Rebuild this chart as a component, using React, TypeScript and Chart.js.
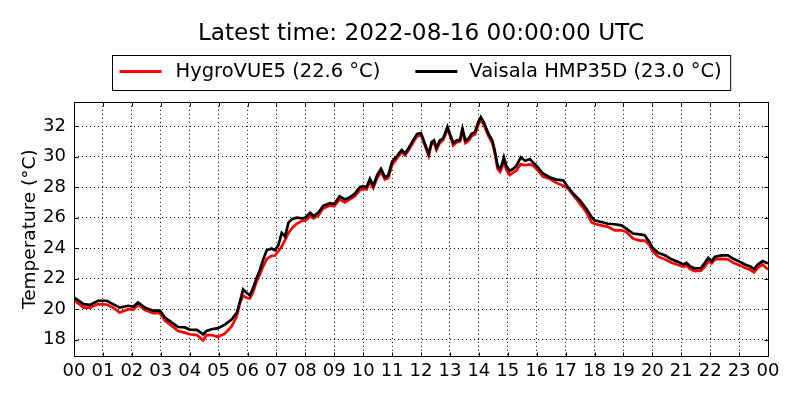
import { useEffect, useRef } from "react";
import { Chart, registerables } from "chart.js";

Chart.register(...registerables);

const titleText = "Latest time: 2022-08-16 00:00:00 UTC";
const yAxisLabel = "Temperature (°C)";
const seriesNames = ["HygroVUE5 (22.6 °C)", "Vaisala HMP35D (23.0 °C)"];
const seriesColors = ["#ff0000", "#000000"];
const yTicks = [18, 20, 22, 24, 26, 28, 30, 32];
const yLimits = [16.9, 33.6];
const hourTicks = [0, 1, 2, 3, 4, 5, 6, 7, 8, 9, 10, 11, 12, 13, 14, 15, 16, 17, 18, 19, 20, 21, 22, 23, 24];

const times = [
    "00:00", "00:20", "00:33", "00:50", "01:08", "01:21", "01:35", "01:53", "02:03", "02:13", "02:27", "02:44", "02:58", "03:09", "03:23", "03:36", "03:50", "04:00",
    "04:15", "04:28", "04:35", "04:45", "04:59", "05:13", "05:27", "05:38", "05:45", "05:51", "05:58", "06:05", "06:12", "06:19", "06:26", "06:33", "06:40", "06:50", "06:57", "07:04", "07:11", "07:18", "07:25", "07:32", "07:42", "07:53",
    "08:00", "08:10", "08:17", "08:27", "08:37", "08:51", "09:00", "09:11", "09:22", "09:32", "09:42", "09:53", "10:00", "10:07", "10:14", "10:21", "10:29", "10:37", "10:45", "10:52", "11:00", "11:09", "11:20", "11:27", "11:34", "11:44", "11:52", "12:00",
    "12:08", "12:16", "12:22", "12:27", "12:32", "12:39", "12:46", "12:55", "13:00", "13:07", "13:14", "13:21", "13:26", "13:32", "13:39", "13:45", "13:52", "13:59", "14:04", "14:11", "14:20", "14:28", "14:33", "14:39", "14:44", "14:48", "14:52", "14:57", "15:04", "15:11", "15:18", "15:27", "15:36", "15:46", "15:53",
    "16:00", "16:13", "16:27", "16:40", "16:55", "17:05", "17:16", "17:30", "17:43", "17:54", "18:00", "18:14", "18:28", "18:42", "18:56", "19:06", "19:20", "19:34", "19:44", "19:54",
    "20:00", "20:12", "20:26", "20:40", "20:54", "21:04", "21:11", "21:18", "21:28", "21:41", "21:49", "21:56", "22:03", "22:10", "22:24", "22:37", "22:48", "23:02", "23:12", "23:22", "23:31", "23:39", "23:49", "24:00",
];

const hygroVue = [
    20.6, 20.1, 20.1, 20.33, 20.3, 20.1, 19.78, 20.0, 19.95, 20.3, 19.95, 19.73, 19.73, 19.23, 18.9, 18.57, 18.46, 18.35,
    18.3, 17.95, 18.3, 18.3, 18.18, 18.4, 18.86, 19.55, 20.45, 20.9, 20.75, 20.7, 21.14, 21.82, 22.3, 22.84, 23.3, 23.5, 23.52, 23.8, 24.1, 24.54, 25.0, 25.3, 25.6, 25.8,
    25.8, 26.1, 25.95, 26.15, 26.6, 26.8, 26.75, 27.2, 27.0, 27.2, 27.4, 27.8, 27.9, 27.85, 28.35, 27.95, 28.6, 29.0, 28.5, 28.6, 29.45, 29.85, 30.3, 30.1, 30.4, 30.95, 31.35, 31.4,
    30.75, 30.05, 30.85, 30.95, 30.45, 30.9, 31.1, 31.8, 31.4, 30.75, 30.95, 31.0, 31.7, 30.9, 31.05, 31.35, 31.45, 32.1, 32.45, 32.05, 31.35, 30.9, 30.25, 29.2, 29.0, 29.3, 29.7, 29.15, 28.8, 28.95, 29.1, 29.5, 29.45, 29.5, 29.4,
    29.2, 28.7, 28.55, 28.3, 28.1, 27.9, 27.48, 26.9, 26.37, 25.7, 25.6, 25.5, 25.4, 25.17, 25.17, 25.06, 24.63, 24.5, 24.5, 24.2,
    23.82, 23.44, 23.27, 23.04, 22.9, 22.78, 22.87, 22.64, 22.5, 22.53, 22.78, 23.15, 23.0, 23.27, 23.3, 23.27, 23.04, 22.87, 22.71, 22.6, 22.42, 22.71, 22.93, 22.6,
];

const vaisala = [
    20.77, 20.33, 20.28, 20.55, 20.55, 20.33, 20.1, 20.22, 20.15, 20.44, 20.1, 19.9, 19.9, 19.45, 19.12, 18.83, 18.8, 18.66,
    18.64, 18.34, 18.57, 18.68, 18.75, 18.98, 19.32, 19.77, 20.57, 21.3, 21.07, 20.9, 21.43, 22.05, 22.6, 23.3, 23.86, 23.98, 23.86, 24.2, 25.0, 24.77, 25.68, 25.9, 26.0, 25.95,
    26.0, 26.33, 26.1, 26.33, 26.78, 26.96, 26.9, 27.4, 27.2, 27.33, 27.55, 28.0, 28.07, 28.0, 28.55, 28.1, 28.8, 29.2, 28.66, 28.77, 29.67, 30.0, 30.44, 30.22, 30.55, 31.1, 31.5, 31.55,
    30.85, 30.2, 30.96, 31.07, 30.6, 31.07, 31.2, 31.96, 31.5, 30.9, 31.07, 31.1, 31.85, 31.07, 31.2, 31.5, 31.6, 32.3, 32.6, 32.2, 31.5, 31.07, 30.4, 29.4, 29.2, 29.5, 29.96, 29.4, 29.07, 29.2, 29.4, 29.96, 29.73, 29.85, 29.6,
    29.4, 28.9, 28.65, 28.5, 28.45, 28.0, 27.57, 27.13, 26.59, 26.04, 25.83, 25.72, 25.6, 25.57, 25.5, 25.28, 24.96, 24.9, 24.85, 24.4,
    24.04, 23.7, 23.53, 23.27, 23.1, 22.93, 23.04, 22.82, 22.67, 22.7, 23.04, 23.37, 23.15, 23.44, 23.53, 23.53, 23.3, 23.1, 22.93, 22.82, 22.64, 22.93, 23.15, 23.0,
];

const FONT = "'DejaVu Sans'";

const toHours = (t: string) => {
    const [h, m] = t.split(":").map(Number);
    return h + m / 60;
};

const points = (values: number[]) => values.map((v, i) => ({ x: toHours(times[i]), y: v }));

// frame, inward ticks and the boxed legend, drawn like matplotlib does
const framePlugin = {
    id: "frameLegend",
    afterDatasetsDraw(chart: any) {
        const { ctx, chartArea: a, scales } = chart;
        ctx.save();
        ctx.strokeStyle = "#000";
        ctx.lineWidth = 1;
        const l = Math.round(a.left) + 0.5;
        const t = Math.round(a.top) + 0.5;
        const r = Math.round(a.right) + 0.5;
        const b = Math.round(a.bottom) + 0.5;
        ctx.strokeRect(l, t, r - l, b - t);

        ctx.beginPath();
        scales.x.ticks.forEach((tk: any) => {
            const px = Math.round(scales.x.getPixelForValue(tk.value)) + 0.5;
            ctx.moveTo(px, b); ctx.lineTo(px, b - 4);
            ctx.moveTo(px, t); ctx.lineTo(px, t + 4);
        });
        scales.y.ticks.forEach((tk: any) => {
            const py = Math.round(scales.y.getPixelForValue(tk.value)) + 0.5;
            ctx.moveTo(l, py); ctx.lineTo(l + 4, py);
            ctx.moveTo(r, py); ctx.lineTo(r - 4, py);
        });
        ctx.stroke();

        // legend
        ctx.font = `19.5px ${FONT}`;
        const w1 = ctx.measureText(seriesNames[0]).width;
        const w2 = ctx.measureText(seriesNames[1]).width;
        const sample = 42;
        const total = 7 + sample + 14 + w1 + 35 + sample + 12 + w2 + 9;
        const cx = (a.left + a.right) / 2;
        const bx = Math.round(cx - total / 2) + 0.5;
        const by = 55.5;
        const bh = 35;
        ctx.fillStyle = "#fff";
        ctx.fillRect(bx, by, total, bh);
        ctx.strokeStyle = "#000";
        ctx.lineWidth = 1;
        ctx.strokeRect(bx, by, total, bh);
        const my = 71.5;
        let x = bx + 7;
        [0, 1].forEach((i) => {
            ctx.strokeStyle = seriesColors[i];
            ctx.lineWidth = 3;
            ctx.beginPath();
            ctx.moveTo(x, my);
            ctx.lineTo(x + sample, my);
            ctx.stroke();
            x += sample + (i === 0 ? 14 : 12);
            ctx.fillStyle = "#000";
            ctx.textBaseline = "middle";
            ctx.textAlign = "left";
            ctx.fillText(seriesNames[i], x, my);
            x += (i === 0 ? w1 : w2) + 35;
        });
        ctx.restore();
    },
};

const TemperatureChart = () => {
    const chartRef = useRef<HTMLCanvasElement | null>(null);

    useEffect(() => {
        if (!chartRef.current) return;
        const ctx = chartRef.current.getContext("2d");
        if (!ctx) return;

        Chart.defaults.font.family = FONT;
        Chart.defaults.color = "#000";

        const myChart = new Chart(ctx, {
            type: "line",
            data: {
                datasets: [
                    {
                        label: seriesNames[0],
                        data: points(hygroVue),
                        borderColor: seriesColors[0],
                        borderWidth: 2.7,
                        pointRadius: 0,
                        tension: 0,
                        order: 2,
                    },
                    {
                        label: seriesNames[1],
                        data: points(vaisala),
                        borderColor: seriesColors[1],
                        borderWidth: 2.7,
                        pointRadius: 0,
                        tension: 0,
                        order: 1,
                    },
                ],
            },
            options: {
                animation: false,
                responsive: true,
                maintainAspectRatio: false,
                layout: { padding: { left: 19, right: 32, bottom: 14, top: 0 } },
                plugins: {
                    legend: { display: false },
                    tooltip: { enabled: false },
                    title: {
                        display: true,
                        text: titleText,
                        fullSize: false,
                        color: "#000",
                        font: { size: 23.2, weight: "normal" },
                        padding: { top: 20, bottom: 54 },
                    },
                },
                scales: {
                    x: {
                        type: "linear",
                        min: 0,
                        max: 24,
                        afterBuildTicks: (scale: any) => {
                            scale.ticks = hourTicks.map((v) => ({ value: v }));
                        },
                        ticks: {
                            autoSkip: false,
                            maxRotation: 0,
                            padding: 4,
                            color: "#000",
                            font: { size: 18 },
                            callback: (v: any) => String(Number(v) % 24).padStart(2, "0"),
                        },
                        grid: { color: "#000", lineWidth: 1, drawTicks: false },
                        border: { display: false, dash: [1, 3] },
                    },
                    y: {
                        type: "linear",
                        min: yLimits[0],
                        max: yLimits[1],
                        afterBuildTicks: (scale: any) => {
                            scale.ticks = yTicks.map((v) => ({ value: v }));
                        },
                        afterFit: (scale: any) => {
                            scale.width = 55;
                        },
                        ticks: {
                            padding: 8,
                            color: "#000",
                            font: { size: 18 },
                        },
                        grid: { color: "#000", lineWidth: 1, drawTicks: false },
                        border: { display: false, dash: [1, 3] },
                        title: {
                            display: true,
                            text: yAxisLabel,
                            color: "#000",
                            font: { size: 18.5 },
                            padding: { top: 0, bottom: 0 },
                        },
                    },
                },
            },
            plugins: [framePlugin],
        });
        return () => {
            myChart.destroy();
        };
    }, []);

    return (
        <div style={{ position: "absolute", left: 0, top: 0, width: 800, height: 400, background: "#fff" }}>
            <canvas ref={chartRef}></canvas>
        </div>
    );
};

export default function App() {
    return <TemperatureChart />;
}
